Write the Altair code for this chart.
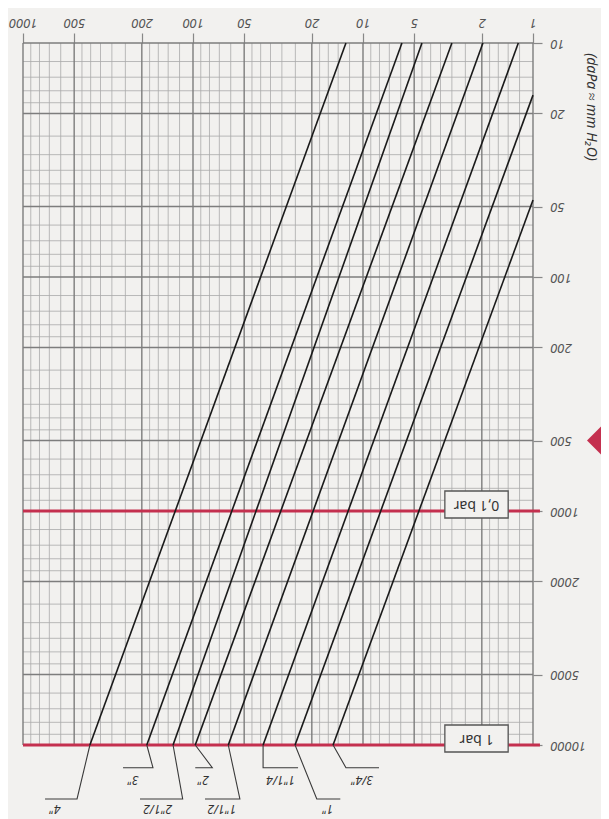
import altair as alt
import pandas as pd

FONT = "Noto Sans"
BG = "#f2f1ef"
RED = "#c4304f"
INK = "#333333"

# ---- axis tick labels ----
x_tick_values = [1, 2, 5, 10, 20, 50, 100, 200, 500, 1000]
y_tick_values = [10, 20, 50, 100, 200, 500, 1000, 2000, 5000, 10000]

# ---- log paper subdivisions ----
sub_steps = [1, 1.2, 1.4, 1.6, 1.8, 2, 2.5, 3, 3.5, 4, 4.5, 5, 6, 7, 8, 9]
major_steps = [1, 2, 5]
x_decades = [1, 10, 100]
y_decades = [10, 100, 1000]

# ---- pipe lines (flow vs pressure drop) ----
pipes = ['3/4"', '1"', '1"1/4', '1"1/2', '2"', '2"1/2', '3"', '4"']
flow_low_end = [15, 25.1, 38.7, 62, 97, 131, 187, 404]      # at 10000 daPa
press_low_end = [10000] * 8
flow_high_end = [1, 1, 1.22, 1.97, 3.0, 4.5, 5.9, 12.6]
press_high_end = [46.9, 16.7, 10, 10, 10, 10, 10, 10]

# ---- label leaders below the chart ----
leader_elbow = [12.6, 18.7, 38.7, 53, 77, 115, 172, 481]
leader_end = [8.05, 13.6, 24.1, 85, 97, 205, 258, 742]
label_flow = [10.1, 16.1, 30.4, 67.5, 87, 161, 225, 648]
label_row = ["upper", "lower", "upper", "lower", "upper", "lower", "upper", "lower"]
row_level = {"upper": 12500, "lower": 17000}
row_text_level = {"upper": 14100, "lower": 18800}

# ---- pressure reference lines ----
bar_levels = [1000, 10000]
bar_labels = ["0,1 bar", "1 bar"]
bar_rule_from = 1000
bar_rule_to = 0.91
box_flow_left = 3.3
box_flow_right = 1.4
box_flow_center = 2.15

axis_title = "(daPa \u2248 mm H\u2082O)"

xs = alt.Scale(type="log", domain=[1, 1000], reverse=True, nice=False)
ys = alt.Scale(type="log", domain=[10, 10000], reverse=True, nice=False)

# grid tables
vx, vmaj = [], []
for d in x_decades:
    for m in sub_steps:
        vx.append(d * m)
        vmaj.append(m in major_steps)
vx.append(1000)
vmaj.append(True)
hy, hmaj = [], []
for d in y_decades:
    for m in sub_steps:
        hy.append(d * m)
        hmaj.append(m in major_steps)
hy.append(10000)
hmaj.append(True)

vgrid = pd.DataFrame({"x": vx, "y": 10, "y2": 10000, "major": vmaj})
hgrid = pd.DataFrame({"y": hy, "x": 1000, "x2": 1, "major": hmaj})

x_axis = alt.Axis(orient="top", values=x_tick_values, format="d", labelAngle=180,
                  labelAlign="center", labelBaseline="middle", tickSize=10,
                  labelPadding=11, domain=False, grid=False, ticks=True,
                  tickColor="#888888", tickWidth=1.2, labelColor="#555555",
                  labelFont=FONT, labelFontSize=13, labelFontStyle="italic",
                  title=None, labelOverlap=False, labelFlush=False, labelBound=False)
y_axis = alt.Axis(orient="right", values=y_tick_values, format="d", labelAngle=180,
                  labelAlign="right", labelBaseline="middle", tickSize=9,
                  labelPadding=8, domain=False, grid=False, ticks=True,
                  tickColor="#888888", tickWidth=1.2, labelColor="#555555",
                  labelFont=FONT, labelFontSize=13, labelFontStyle="italic",
                  title=None, labelOverlap=False, labelFlush=False, labelBound=False)


def X(field):
    return alt.X(field, scale=xs, axis=x_axis)


def Y(field):
    return alt.Y(field, scale=ys, axis=y_axis)


def vlayer(df, color, width):
    return alt.Chart(df).mark_rule(color=color, strokeWidth=width).encode(
        x=X("x:Q"), y=Y("y:Q"), y2="y2:Q")


def hlayer(df, color, width):
    return alt.Chart(df).mark_rule(color=color, strokeWidth=width).encode(
        y=Y("y:Q"), x=X("x:Q"), x2="x2:Q")


v_minor = vlayer(vgrid[~vgrid.major], "#a9a9a9", 0.8)
h_minor = hlayer(hgrid[~hgrid.major], "#a9a9a9", 0.8)
v_major = vlayer(vgrid[vgrid.major], "#7d7d7d", 1.4)
h_major = hlayer(hgrid[hgrid.major], "#7d7d7d", 1.4)

# red reference rules
bars = pd.DataFrame({"y": bar_levels, "label": bar_labels,
                     "x": bar_rule_from, "x2": bar_rule_to,
                     "bl": box_flow_left, "br": box_flow_right, "bc": box_flow_center})
red_rules = alt.Chart(bars).mark_rule(color=RED, strokeWidth=3.2, clip=False).encode(
    y=Y("y:Q"), x=X("x:Q"), x2="x2:Q")
boxes = alt.Chart(bars).mark_rect(fill=BG, stroke="#555555", strokeWidth=1.3,
                                   yOffset=-20, y2Offset=7, clip=False).encode(
    x=X("bl:Q"), x2="br:Q", y=Y("y:Q"), y2="y:Q")
box_text = alt.Chart(bars).mark_text(angle=180, font=FONT, fontSize=14, color=INK,
                                      align="center", baseline="middle",
                                      yOffset=-6.5, clip=False).encode(
    x=X("bc:Q"), y=Y("y:Q"), text="label:N")

# pipe lines
rows = []
for i, p in enumerate(pipes):
    rows.append({"pipe": p, "flow": flow_low_end[i], "press": press_low_end[i], "o": 0})
    rows.append({"pipe": p, "flow": flow_high_end[i], "press": press_high_end[i], "o": 1})
lines_df = pd.DataFrame(rows)
pipe_lines = alt.Chart(lines_df).mark_line(color="#1a1a1a", strokeWidth=1.6).encode(
    x=X("flow:Q"), y=Y("press:Q"), detail="pipe:N", order="o:Q")

# leaders
lrows = []
trows = []
for i, p in enumerate(pipes):
    ry = row_level[label_row[i]]
    lrows.append({"pipe": p, "flow": flow_low_end[i], "press": press_low_end[i], "o": 0})
    lrows.append({"pipe": p, "flow": leader_elbow[i], "press": ry, "o": 1})
    lrows.append({"pipe": p, "flow": leader_end[i], "press": ry, "o": 2})
    trows.append({"pipe": p, "flow": label_flow[i], "press": row_text_level[label_row[i]]})
leaders = alt.Chart(pd.DataFrame(lrows)).mark_line(color="#3a3a3a", strokeWidth=1.1,
                                                   clip=False).encode(
    x=X("flow:Q"), y=Y("press:Q"), detail="pipe:N", order="o:Q")
pipe_labels = alt.Chart(pd.DataFrame(trows)).mark_text(
    angle=180, font=FONT, fontSize=12, fontStyle="italic", color=INK,
    align="center", baseline="middle", clip=False).encode(
    x=X("flow:Q"), y=Y("press:Q"), text="pipe:N")

title_df = pd.DataFrame({"t": [axis_title]})
title = alt.Chart(title_df).mark_text(angle=90, font=FONT, fontSize=14,
                                       fontStyle="italic", color=INK,
                                       align="center", baseline="middle").encode(
    x=alt.value(568), y=alt.value(64), text="t:N")

diamond = alt.Chart(pd.DataFrame({"v": [500]})).mark_point(
    shape="diamond", filled=True, size=3600, color=RED, opacity=1, clip=False).encode(
    x=alt.value(594), y=Y("v:Q"))

chart = alt.layer(
    v_minor, h_minor, v_major, h_major, red_rules, pipe_lines, leaders,
    boxes, box_text, pipe_labels, title, diamond
).properties(
    width=510, height=702,
    autosize=alt.AutoSizeParams(type="none"),
    padding={"left": 15, "top": 35, "right": 68, "bottom": 74},
    background=BG,
).configure_view(stroke=None)

chart.save("out.html", embed_options={"renderer": "svg", "actions": False})
